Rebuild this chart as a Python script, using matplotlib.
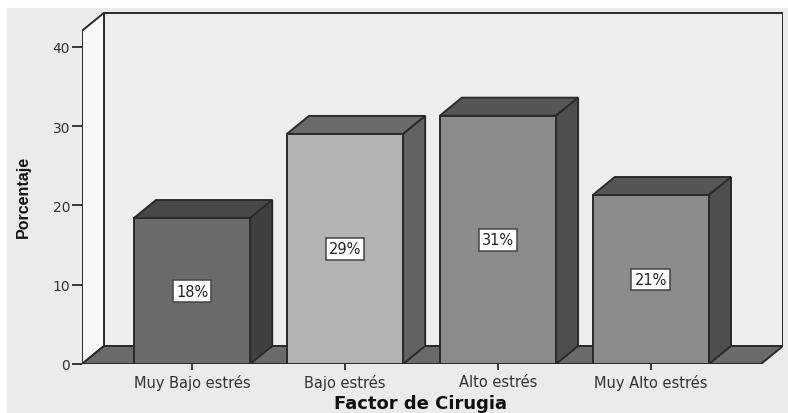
import matplotlib
matplotlib.use("Agg")
import matplotlib.pyplot as plt
from matplotlib.patches import Polygon, Rectangle

# Data
categories = ["Muy Bajo estrés", "Bajo estrés", "Alto estrés", "Muy Alto estrés"]
values = [18.4, 29.0, 31.3, 21.3]
labels = ["18%", "29%", "31%", "21%"]

# Shades per bar: front, top, side
front_colors = ["#6b6b6b", "#b3b3b3", "#8b8b8b", "#8b8b8b"]
top_colors = ["#484848", "#6a6a6a", "#565656", "#565656"]
side_colors = ["#404040", "#626262", "#4e4e4e", "#4e4e4e"]

edge = "#2a2a2a"
W, H = 788, 414
fig = plt.figure(figsize=(W / 100, H / 100), dpi=100, facecolor="white")
fig.patches.append(Rectangle((7 / W, 0), (W - 7) / W, 405 / H,
                             transform=fig.transFigure, color="#ebebeb", zorder=-10))

ax = fig.add_axes([82 / W, (H - 365) / H, (783 - 82) / W, (365 - 13) / H])
ax.set_facecolor("none")

xmin, xmax = -0.72, 3.72
dx, dy = 0.144, 2.27
wall_top = 42.0
bw = 0.76
ax.set_xlim(xmin, xmax + dx)
ax.set_ylim(0, wall_top + dy + 0.1)

# back wall
ax.add_patch(Rectangle((xmin + dx, dy), xmax - xmin, wall_top, facecolor="#eeeeee",
                       edgecolor=edge, lw=1.4, zorder=1))
# left wall
ax.add_patch(Polygon([(xmin, 0), (xmin, wall_top), (xmin + dx, wall_top + dy), (xmin + dx, dy)],
                     closed=True, facecolor="#f8f8f8", edgecolor=edge, lw=1.4, zorder=2))
# floor
ax.add_patch(Polygon([(xmin, 0), (xmax, 0), (xmax + dx, dy), (xmin + dx, dy)],
                     closed=True, facecolor="#6a6a6a", edgecolor=edge, lw=1.4, zorder=2))

for i, v in enumerate(values):
    x0, x1 = i - bw / 2, i + bw / 2
    ax.add_patch(Polygon([(x0, v), (x1, v), (x1 + dx, v + dy), (x0 + dx, v + dy)],
                         closed=True, facecolor=top_colors[i], edgecolor=edge, lw=1.4, zorder=3))
    ax.add_patch(Polygon([(x1, 0), (x1 + dx, dy), (x1 + dx, v + dy), (x1, v)],
                         closed=True, facecolor=side_colors[i], edgecolor=edge, lw=1.4, zorder=3))
    ax.add_patch(Rectangle((x0, 0), bw, v, facecolor=front_colors[i],
                           edgecolor=edge, lw=1.4, zorder=4))
    ax.text(i, v / 2, labels[i], ha="center", va="center", fontsize=10.5, color="#222222",
            family="DejaVu Sans", zorder=5,
            bbox=dict(boxstyle="square,pad=0.22", facecolor="white", edgecolor="#444444", lw=1.1))

for s in ax.spines.values():
    s.set_visible(False)

ax.set_yticks([0, 10, 20, 30, 40])
ax.set_xticks(range(len(categories)))
ax.set_xticklabels(categories)
ax.tick_params(axis="y", length=7, width=1.3, color=edge, pad=1.5,
               labelsize=10, labelcolor="#333333")
ax.tick_params(axis="x", length=4, width=1.3, color=edge, pad=3,
               labelsize=10.5, labelcolor="#333333")

fig.text(421 / W, (H - 404) / H, "Factor de Cirugia", ha="center", va="center",
         fontsize=13, fontweight="bold", color="#111111")
fig.text(23 / W, (H - 197) / H, "Porcentaje", ha="center", va="center", rotation=90,
         fontsize=11.5, fontweight="bold", family="Liberation Sans", color="#111111")

fig.savefig("out.png", dpi=100, facecolor=fig.get_facecolor())
